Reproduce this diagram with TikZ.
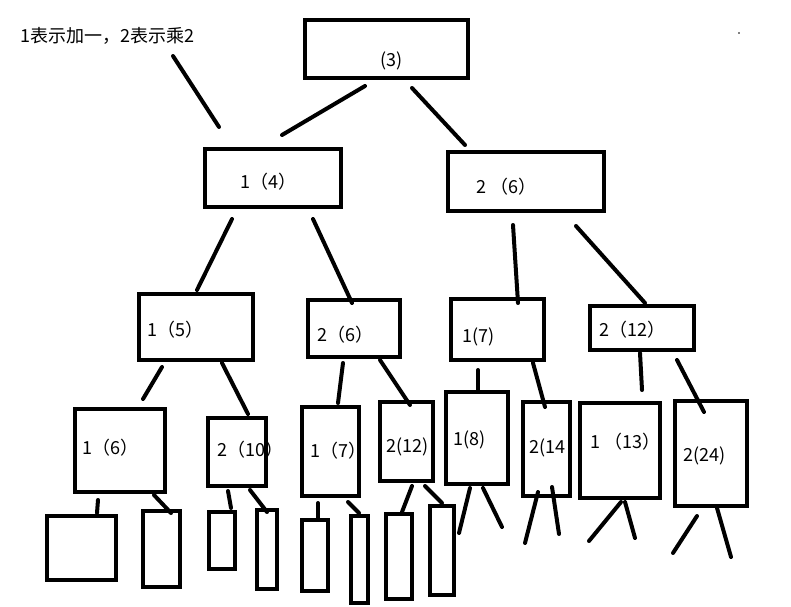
\documentclass[tikz,border=0pt]{standalone}
\usepackage{fontspec}
\setmainfont{Noto Sans CJK SC}
\usetikzlibrary{fit}

\tikzset{
  box/.style={draw, line width=3.4pt, inner sep=0pt, outer sep=0pt},
  edge/.style={line width=3pt, line cap=round},
  lbl/.style={anchor=west, inner sep=0pt, font=\fontsize{13.5}{16}\selectfont}
}

\begin{document}
\begin{tikzpicture}[x=0.75pt,y=-0.75pt]

\useasboundingbox (0,0) rectangle (791,606);

% Note at the top left
\node[lbl] (note) at (20,36) {1表示加一，2表示乘2};
\fill (739,33) circle (0.8);

% Level 0 and 1 boxes
\node[box, fit={(305,20) (468,78)}] (b3) {};
\node[lbl] (t3) at (380,61) {(3)};
\node[box, fit={(205,149) (341,207)}] (b4) {};
\node[lbl] (t4) at (240,182) {1（4）};
\node[box, fit={(448,152) (604,211)}] (b6) {};
\node[lbl] (t6) at (476,187) {2 （6）};

% Level 2 boxes
\node[box, fit={(139,294) (253,360)}] (b5) {};
\node[lbl] (t5) at (147,330) {1（5）};
\node[box, fit={(308,300) (400,357)}] (b6b) {};
\node[lbl] (t6b) at (317,335) {2（6）};
\node[box, fit={(451,299) (544,360)}] (b7) {};
\node[lbl] (t7) at (462,337) {1(7)};
\node[box, fit={(590,306) (694,350)}] (b12) {};
\node[lbl] (t12) at (599,330) {2（12）};

% Level 3 boxes
\node[box, fit={(75,409) (165,492)}] (b6c) {};
\node[lbl] (t6c) at (82,448) {1（6）};
\node[box, fit={(208,418) (266,486)}] (b10) {};
\node[lbl] (t10) at (217,450) {2（10）};
\node[box, fit={(302,407) (359,496)}] (b7b) {};
\node[lbl] (t7b) at (310,451) {1（7）};
\node[box, fit={(380,402) (433,481)}] (b12b) {};
\node[lbl] (t12b) at (386,447) {2(12)};
\node[box, fit={(446,392) (508,484)}] (b8) {};
\node[lbl] (t8) at (453,440) {1(8)};
\node[box, fit={(523,402) (570,496)}] (b14) {};
\node[lbl] (t14) at (529,448) {2(14};
\node[box, fit={(580,403) (660,498)}] (b13) {};
\node[lbl] (t13) at (590,442) {1 （13）};
\node[box, fit={(675,401) (747,506)}] (b24) {};
\node[lbl] (t24) at (683,456) {2(24)};

% Level 4 boxes, empty
\node[box, fit={(47,516) (116,580)}] (ca) {};
\node[box, fit={(143,511) (180,587)}] (cb) {};
\node[box, fit={(209,512) (235,569)}] (cc) {};
\node[box, fit={(257,510) (277,589)}] (cd) {};
\node[box, fit={(302,520) (328,591)}] (ce) {};
\node[box, fit={(351,516) (368,603)}] (cf) {};
\node[box, fit={(386,514) (412,599)}] (cg) {};
\node[box, fit={(430,506) (454,595)}] (ch) {};

% Ends of the strokes
\coordinate (n1) at (173,56);  \coordinate (m1) at (219,127);
\coordinate (n2) at (365,86);  \coordinate (m2) at (282,135);
\coordinate (n3) at (412,88);  \coordinate (m3) at (465,145);
\coordinate (n4) at (232,219); \coordinate (m4) at (197,290);
\coordinate (n5) at (313,219); \coordinate (m5) at (352,303);
\coordinate (n6) at (513,225); \coordinate (m6) at (518,303);
\coordinate (n7) at (576,226); \coordinate (m7) at (645,303);
\coordinate (n8) at (162,367); \coordinate (m8) at (143,399);
\coordinate (n9) at (222,363); \coordinate (m9) at (248,414);
\coordinate (n10) at (343,363); \coordinate (m10) at (338,403);
\coordinate (n11) at (380,360); \coordinate (m11) at (410,405);
\coordinate (n12) at (478,370); \coordinate (m12) at (478,390);
\coordinate (n13) at (533,363); \coordinate (m13) at (545,407);
\coordinate (n14) at (640,353); \coordinate (m14) at (642,390);
\coordinate (n15) at (677,360); \coordinate (m15) at (704,412);
\coordinate (n16) at (98,500);  \coordinate (m16) at (97,513);
\coordinate (n17) at (154,495); \coordinate (m17) at (171,513);
\coordinate (n18) at (228,491); \coordinate (m18) at (231,508);
\coordinate (n19) at (250,490); \coordinate (m19) at (267,512);
\coordinate (n20) at (318,503); \coordinate (m20) at (318,518);
\coordinate (n21) at (348,502); \coordinate (m21) at (359,513);
\coordinate (n22) at (412,486); \coordinate (m22) at (402,512);
\coordinate (n23) at (425,486); \coordinate (m23) at (442,503);
\coordinate (n24) at (470,488); \coordinate (m24) at (459,533);
\coordinate (n25) at (483,488); \coordinate (m25) at (502,527);
\coordinate (n26) at (538,492); \coordinate (m26) at (525,543);
\coordinate (n27) at (552,487); \coordinate (m27) at (559,534);
\coordinate (n28) at (621,502); \coordinate (m28) at (589,541);
\coordinate (n29) at (625,502); \coordinate (m29) at (635,538);
\coordinate (n30) at (697,516); \coordinate (m30) at (673,553);
\coordinate (n31) at (717,508); \coordinate (m31) at (731,557);

% Strokes
\draw[edge] (n1) -- (m1);
\draw[edge] (n2) -- (m2);
\draw[edge] (n3) -- (m3);
\draw[edge] (n4) -- (m4);
\draw[edge] (n5) -- (m5);
\draw[edge] (n6) -- (m6);
\draw[edge] (n7) -- (m7);
\draw[edge] (n8) -- (m8);
\draw[edge] (n9) -- (m9);
\draw[edge] (n10) -- (m10);
\draw[edge] (n11) -- (m11);
\draw[edge] (n12) -- (m12);
\draw[edge] (n13) -- (m13);
\draw[edge] (n14) -- (m14);
\draw[edge] (n15) -- (m15);
\draw[edge] (n16) -- (m16);
\draw[edge] (n17) -- (m17);
\draw[edge] (n18) -- (m18);
\draw[edge] (n19) -- (m19);
\draw[edge] (n20) -- (m20);
\draw[edge] (n21) -- (m21);
\draw[edge] (n22) -- (m22);
\draw[edge] (n23) -- (m23);
\draw[edge] (n24) -- (m24);
\draw[edge] (n25) -- (m25);
\draw[edge] (n26) -- (m26);
\draw[edge] (n27) -- (m27);
\draw[edge] (n28) -- (m28);
\draw[edge] (n29) -- (m29);
\draw[edge] (n30) -- (m30);
\draw[edge] (n31) -- (m31);

\end{tikzpicture}
\end{document}
